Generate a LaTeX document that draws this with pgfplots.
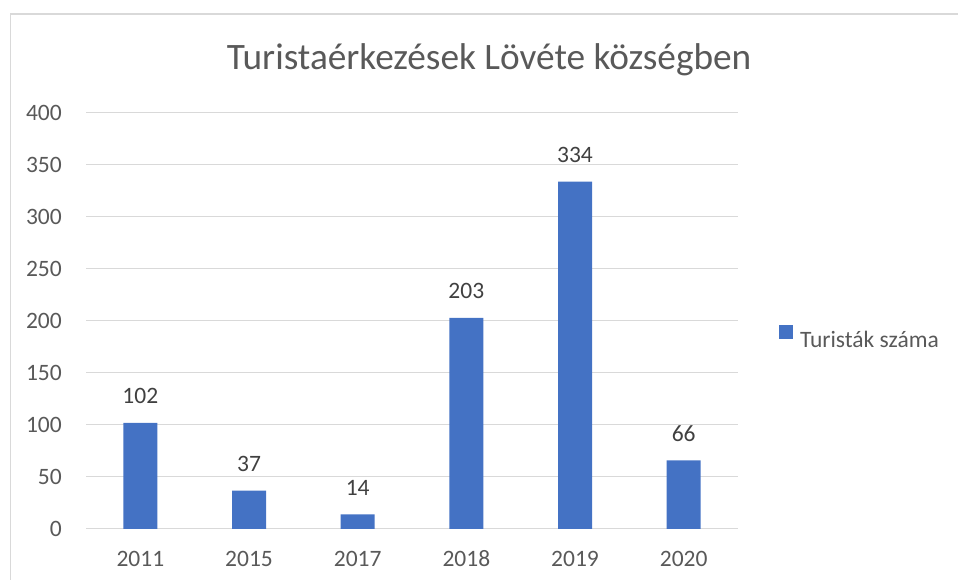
\documentclass[border=0pt]{standalone}
\usepackage{fontspec}
\setmainfont{Carlito}
\usepackage{pgfplots}
\pgfplotsset{compat=1.18}
\definecolor{barblue}{HTML}{4472C4}
\definecolor{gridgray}{HTML}{D9D9D9}
\definecolor{txtgray}{HTML}{595959}
\definecolor{lblgray}{HTML}{404040}
\begin{document}
\begin{tikzpicture}
\path[use as bounding box] (0pt,0pt) rectangle (958pt,580pt);
\draw[gridgray, line width=1.2pt] (10.5pt,-2pt) -- (10.5pt,566pt) -- (960pt,566pt);
\node[anchor=base, text=txtgray, font=\fontsize{37.3}{41}\selectfont, inner sep=0pt] at (489pt,510pt) {Turistaérkezések Lövéte községben};
\begin{axis}[
  at={(86pt,51pt)}, anchor=south west,
  scale only axis, width=652pt, height=416pt,
  xmin=-0.5, xmax=5.5, ymin=0, ymax=400,
  ybar, bar width=34pt,
  xtick={0,1,2,3,4,5},
  xticklabels={2011,2015,2017,2018,2019,2020},
  ytick={0,50,...,400},
  major tick length=0pt,
  axis line style={draw=none},
  ymajorgrids, grid style={gridgray, line width=1pt},
  /pgf/number format/assume math mode=true,
  tick label style={font=\fontsize{23.5}{27}\selectfont, text=txtgray, inner sep=0pt},
  xticklabel style={anchor=base, yshift=-38pt},
  yticklabel style={anchor=base east, xshift=-24pt, yshift=-7.5pt},
  nodes near coords,
  every node near coord/.append style={anchor=base, yshift=19pt, inner sep=0pt, font=\fontsize{23.5}{27}\selectfont, text=lblgray},
  clip=false,
  legend style={draw=none, fill=none, at={(1.0629,0.4615)}, anchor=west, inner sep=0pt, outer sep=0pt,
    nodes={inner sep=0pt, text=txtgray, font=\fontsize{23.5}{27}\selectfont},
    /tikz/every odd column/.append style={column sep=7pt}},
  legend image code/.code={\fill[#1] (0pt,0.5pt) rectangle (14pt,14.5pt);},
]
\addplot[fill=barblue, draw=none] coordinates {(0,102) (1,37) (2,14) (3,203) (4,334) (5,66)};
\addlegendentry{Turisták száma}
\end{axis}
\end{tikzpicture}
\end{document}
